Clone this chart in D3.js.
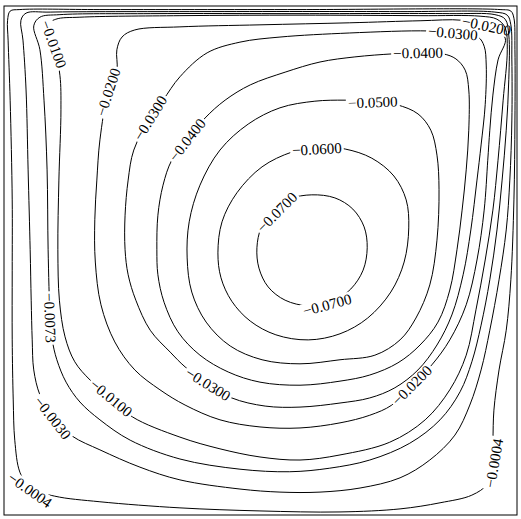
<!DOCTYPE html>
<html>
<head>
<meta charset="utf-8">
<script src="https://cdn.jsdelivr.net/npm/d3@7"></script>
<style>
  body { margin: 0; background: #fff; }
  svg { display: block; }
  .lbl { font-family: "Liberation Serif", "Times New Roman", serif; font-size: 15px; fill: #000; }
</style>
</head>
<body>
<div id="chart"></div>
<script>
// contour levels of the stream function, outermost first
const levels = [-0.0004, -0.0030, -0.0073, -0.0100, -0.0200, -0.0300, -0.0400, -0.0500, -0.0600, -0.0700];

// traced contour points (x, y in cavity units 0..1)
const psi0004 = [[0.016,0.619],[0.012,0.815],[0.008,0.933],[0.007,0.972],[0.012,0.990],[0.031,0.993],[0.187,0.993],[0.577,0.993],[0.967,0.993],[0.988,0.990],[0.994,0.976],[0.996,0.914],[0.996,0.776],[0.994,0.619],[0.988,0.462],[0.979,0.363],[0.965,0.285],[0.955,0.206],[0.953,0.147],[0.951,0.102],[0.942,0.061],[0.912,0.039],[0.850,0.024],[0.772,0.012],[0.655,0.006],[0.499,0.008],[0.343,0.014],[0.187,0.026],[0.099,0.037],[0.051,0.053],[0.031,0.084],[0.021,0.147],[0.018,0.226],[0.016,0.344],[0.016,0.481]];
const psi0030 = [[0.051,0.521],[0.047,0.678],[0.043,0.835],[0.037,0.933],[0.033,0.972],[0.043,0.986],[0.090,0.988],[0.382,0.989],[0.772,0.989],[0.957,0.988],[0.981,0.982],[0.988,0.963],[0.990,0.894],[0.990,0.776],[0.986,0.658],[0.979,0.560],[0.965,0.462],[0.947,0.363],[0.930,0.285],[0.908,0.216],[0.879,0.157],[0.830,0.108],[0.772,0.073],[0.694,0.053],[0.616,0.045],[0.538,0.045],[0.460,0.051],[0.343,0.069],[0.265,0.094],[0.187,0.128],[0.133,0.155],[0.095,0.191],[0.070,0.236],[0.058,0.285],[0.055,0.344],[0.053,0.422]];
const psi0073 = [[0.086,0.521],[0.084,0.678],[0.078,0.815],[0.070,0.914],[0.058,0.961],[0.070,0.978],[0.109,0.983],[0.285,0.985],[0.577,0.985],[0.869,0.985],[0.957,0.983],[0.977,0.974],[0.984,0.943],[0.984,0.855],[0.979,0.756],[0.971,0.658],[0.961,0.560],[0.947,0.462],[0.930,0.373],[0.912,0.301],[0.889,0.242],[0.850,0.187],[0.791,0.141],[0.713,0.108],[0.635,0.092],[0.557,0.085],[0.460,0.090],[0.343,0.110],[0.246,0.147],[0.187,0.187],[0.148,0.222],[0.121,0.261],[0.103,0.305],[0.094,0.344],[0.090,0.387]];
const psi0100 = [[0.108,0.422],[0.105,0.521],[0.107,0.658],[0.111,0.796],[0.109,0.864],[0.097,0.925],[0.082,0.961],[0.101,0.974],[0.148,0.978],[0.343,0.981],[0.577,0.982],[0.811,0.981],[0.928,0.980],[0.961,0.974],[0.977,0.957],[0.981,0.914],[0.973,0.815],[0.963,0.697],[0.953,0.599],[0.938,0.501],[0.920,0.403],[0.901,0.314],[0.869,0.246],[0.821,0.187],[0.752,0.143],[0.655,0.118],[0.577,0.108],[0.499,0.114],[0.421,0.130],[0.343,0.153],[0.250,0.193],[0.209,0.230],[0.168,0.265],[0.138,0.301],[0.119,0.350]];
const psi0200 = [[0.178,0.497],[0.177,0.580],[0.181,0.658],[0.187,0.737],[0.203,0.831],[0.220,0.874],[0.220,0.914],[0.230,0.939],[0.255,0.953],[0.343,0.959],[0.499,0.963],[0.674,0.967],[0.811,0.971],[0.893,0.972],[0.941,0.961],[0.977,0.937],[0.963,0.894],[0.953,0.825],[0.947,0.756],[0.943,0.697],[0.936,0.599],[0.922,0.501],[0.901,0.413],[0.869,0.344],[0.834,0.295],[0.795,0.255],[0.756,0.216],[0.713,0.196],[0.655,0.181],[0.577,0.171],[0.499,0.173],[0.421,0.187],[0.353,0.216],[0.304,0.246],[0.255,0.285],[0.216,0.340],[0.189,0.413]];
const psi0300 = [[0.236,0.521],[0.236,0.589],[0.242,0.658],[0.253,0.717],[0.285,0.780],[0.310,0.815],[0.343,0.861],[0.396,0.908],[0.460,0.929],[0.538,0.939],[0.674,0.947],[0.827,0.951],[0.875,0.947],[0.924,0.939],[0.936,0.921],[0.940,0.884],[0.938,0.806],[0.930,0.727],[0.922,0.658],[0.910,0.560],[0.895,0.472],[0.873,0.393],[0.844,0.334],[0.807,0.285],[0.762,0.250],[0.713,0.230],[0.655,0.220],[0.577,0.212],[0.509,0.214],[0.444,0.230],[0.398,0.257],[0.353,0.291],[0.324,0.320],[0.285,0.363],[0.257,0.422],[0.242,0.472]];
const psi0400 = [[0.298,0.521],[0.300,0.589],[0.310,0.648],[0.327,0.697],[0.357,0.737],[0.392,0.780],[0.431,0.815],[0.480,0.845],[0.548,0.870],[0.616,0.890],[0.684,0.900],[0.758,0.906],[0.807,0.908],[0.856,0.906],[0.881,0.896],[0.899,0.874],[0.906,0.835],[0.906,0.756],[0.901,0.678],[0.893,0.599],[0.883,0.521],[0.869,0.442],[0.846,0.379],[0.811,0.334],[0.768,0.299],[0.713,0.275],[0.655,0.263],[0.577,0.255],[0.499,0.261],[0.437,0.281],[0.382,0.314],[0.339,0.360],[0.312,0.418],[0.300,0.472]];
const psi0500 = [[0.357,0.505],[0.361,0.576],[0.382,0.648],[0.421,0.717],[0.476,0.768],[0.538,0.800],[0.606,0.813],[0.665,0.815],[0.719,0.813],[0.766,0.806],[0.807,0.788],[0.832,0.756],[0.844,0.707],[0.848,0.639],[0.844,0.540],[0.830,0.452],[0.803,0.387],[0.772,0.344],[0.723,0.314],[0.655,0.305],[0.577,0.297],[0.503,0.305],[0.441,0.332],[0.394,0.379],[0.366,0.438]];
const psi0600 = [[0.417,0.515],[0.425,0.576],[0.454,0.633],[0.503,0.684],[0.561,0.713],[0.610,0.723],[0.665,0.719],[0.717,0.701],[0.760,0.666],[0.784,0.619],[0.789,0.564],[0.780,0.497],[0.754,0.438],[0.709,0.387],[0.655,0.356],[0.593,0.344],[0.530,0.354],[0.480,0.381],[0.444,0.420],[0.423,0.466]];
const psi0700 = [[0.600,0.629],[0.645,0.623],[0.680,0.601],[0.702,0.566],[0.708,0.525],[0.700,0.481],[0.676,0.444],[0.639,0.418],[0.593,0.411],[0.548,0.422],[0.515,0.448],[0.497,0.485],[0.493,0.525],[0.501,0.564],[0.522,0.597],[0.557,0.621]];

const contourPoints = [psi0004, psi0030, psi0073, psi0100, psi0200, psi0300, psi0400, psi0500, psi0600, psi0700];

// inline labels: level, x, y, rotation (deg, clockwise on screen)
const labels = [
  [-0.0004, 0.051, 0.049, 35], [-0.0004, 0.955, 0.102, -80],
  [-0.0030, 0.095, 0.191, 52],
  [-0.0073, 0.090, 0.387, 88],
  [-0.0100, 0.097, 0.925, 70], [-0.0100, 0.209, 0.230, 40],
  [-0.0200, 0.203, 0.831, -72], [-0.0200, 0.941, 0.961, 12], [-0.0200, 0.795, 0.255, -45],
  [-0.0300, 0.285, 0.780, -58], [-0.0300, 0.875, 0.947, 5], [-0.0300, 0.398, 0.257, 32],
  [-0.0400, 0.357, 0.737, -52], [-0.0400, 0.807, 0.908, -1],
  [-0.0500, 0.719, 0.811, -2],
  [-0.0600, 0.610, 0.719, -3],
  [-0.0700, 0.532, 0.595, -45], [-0.0700, 0.630, 0.413, -15]
];

const width = 521;
const height = 519;

const x = d3.scaleLinear().domain([0, 1]).range([4, 517]);
const y = d3.scaleLinear().domain([0, 1]).range([515, 6]);

const svg = d3.select("#chart")
  .append("svg")
  .attr("width", width)
  .attr("height", height);

const defs = svg.append("defs");
const fmt = d3.format(".4f");

const line = d3.line()
  .x(d => x(d[0]))
  .y(d => y(d[1]))
  .curve(d3.curveCatmullRomClosed.alpha(0.5));

// draw label texts first so their widths are known
const textG = svg.append("g");
const texts = textG.selectAll("text")
  .data(labels)
  .enter()
  .append("text")
  .attr("class", "lbl")
  .attr("text-anchor", "middle")
  .attr("dy", "0.35em")
  .attr("transform", d => `translate(${x(d[1])},${y(d[2])}) rotate(${d[3]})`)
  .text(d => fmt(d[0]));

const widths = [];
texts.each(function () { widths.push(this.getComputedTextLength()); });

// one mask per level: cut the line where its own labels sit
levels.forEach((lev, i) => {
  const m = defs.append("mask")
    .attr("id", "m" + i)
    .attr("maskUnits", "userSpaceOnUse")
    .attr("x", 0).attr("y", 0)
    .attr("width", width).attr("height", height);
  m.append("rect")
    .attr("width", width).attr("height", height)
    .attr("fill", "#fff");
  labels.forEach((d, j) => {
    if (d[0] !== lev) return;
    const w = widths[j] + 4;
    m.append("rect")
      .attr("x", -w / 2).attr("y", -7)
      .attr("width", w).attr("height", 14)
      .attr("fill", "#000")
      .attr("transform", `translate(${x(d[1])},${y(d[2])}) rotate(${d[3]})`);
  });
});

svg.insert("g", "g")
  .selectAll("path")
  .data(contourPoints)
  .enter()
  .append("path")
  .attr("d", d => line(d))
  .attr("fill", "none")
  .attr("stroke", "#000")
  .attr("stroke-width", 1)
  .attr("mask", (d, i) => `url(#m${i})`);

// frame
svg.append("rect")
  .attr("x", x(0))
  .attr("y", y(1))
  .attr("width", x(1) - x(0))
  .attr("height", y(0) - y(1))
  .attr("fill", "none")
  .attr("stroke", "#000")
  .attr("stroke-width", 1);
</script>
</body>
</html>
